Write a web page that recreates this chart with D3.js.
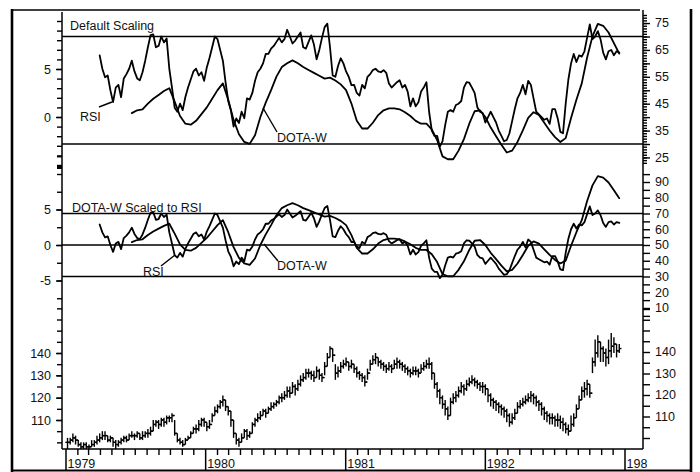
<!DOCTYPE html>
<html>
<head>
<meta charset="utf-8">
<script src="https://cdn.jsdelivr.net/npm/d3@7/dist/d3.min.js"></script>
<style>
  html, body { margin: 0; padding: 0; background: #fff; }
  svg { display: block; }
  text { font-family: "Liberation Sans", Arial, sans-serif; fill: #111; }
</style>
</head>
<body>
<svg id="chart" width="700" height="472"></svg>
<script>
// Weekly series, week 0 = first week of January 1979
const yearLabels = ["1979", "1980", "1981", "1982", "1983"];

// Weekly price bars (close / high / low)
const priceClose = [
  100,101,102,101,99,98,99,98,98,99,
  100,101,102,103,103,101,102,100,99,100,
  101,102,101,103,103,103,104,102,103,104,
  104,105,108,109,108,110,109,111,111,112,
  104,101,100,99,101,102,104,106,106,108,
  110,109,107,108,112,114,116,118,119,116,
  114,110,104,101,100,102,105,103,104,108,
  110,111,112,114,113,115,116,117,118,120,
  120,121,123,122,125,124,126,128,129,131,
  131,130,129,132,130,129,134,138,142,139,
  131,132,134,135,136,134,135,133,131,130,
  129,127,131,135,137,138,136,135,134,133,
  134,133,135,136,135,134,133,132,131,132,
  132,131,133,134,135,135,131,126,123,120,
  117,115,112,118,120,121,123,125,124,126,
  127,128,127,126,125,125,124,121,119,118,
  117,116,115,114,112,109,111,113,116,117,
  118,119,120,121,120,118,117,115,113,112,
  111,111,110,110,109,108,106,105,108,111,
  115,119,123,124,126,122,136,140,145,142,
  140,138,141,143,144,141,142
];
const priceHigh = [
  102,102,104,103,101,100,100,100,99,101,
  101,103,104,105,105,103,103,102,101,101,
  102,103,103,104,105,104,105,104,105,105,
  106,107,110,110,110,111,111,112,112,113,
  110,104,102,101,102,103,105,107,108,110,
  111,111,109,110,113,116,117,119,121,119,
  116,114,110,104,102,104,106,106,105,109,
  111,113,114,115,115,116,118,118,119,121,
  122,123,125,125,127,126,128,130,131,133,
  133,132,132,134,133,131,136,140,143,142,
  135,134,136,137,138,136,137,135,134,132,
  131,130,133,137,139,140,138,137,136,135,
  136,135,137,138,137,136,135,134,133,134,
  134,133,135,136,137,138,136,131,127,124,
  121,119,116,120,122,123,125,127,126,128,
  129,130,129,128,127,127,126,124,122,120,
  119,118,117,116,115,113,113,115,118,119,
  120,121,122,123,122,121,119,118,116,114,
  113,113,112,113,112,111,109,108,112,113,
  117,121,125,127,128,126,138,146,148,145,
  143,142,146,149,147,144,144
];
const priceLow = [
  97,99,100,99,98,97,97,97,97,98,
  98,99,100,101,101,100,100,98,97,98,
  99,100,100,101,102,101,102,101,101,102,
  102,103,105,107,106,107,107,108,109,109,
  103,100,99,98,99,101,102,104,104,105,
  107,107,105,106,109,112,113,115,116,114,
  112,107,102,99,98,100,102,101,102,104,
  107,109,110,112,111,113,114,115,116,117,
  118,119,120,120,122,121,123,125,127,128,
  129,128,127,129,128,127,130,134,138,136,
  128,129,131,133,134,132,133,131,129,128,
  127,125,128,132,135,135,134,133,132,131,
  132,131,133,133,133,132,131,130,129,130,
  130,129,131,132,133,133,128,124,120,117,
  115,112,110,112,117,118,120,122,121,123,
  125,126,125,124,123,122,121,118,116,115,
  114,113,112,111,109,107,108,110,113,115,
  116,117,118,118,117,116,114,112,110,109,
  108,108,107,107,106,105,104,103,105,107,
  111,115,119,120,121,120,131,134,138,136,
  136,134,135,138,140,138,140
];

// RSI, weekly, starting at week 12
const rsiStart = 12;
const rsi = [
  63,58,54.8,55.5,50,45.6,51,52,47.4,54.4,
  56,58,61,57,54.4,53.7,56.7,61,66,70.5,
  70.8,66,66.5,70,67.8,69.3,58,51,43.5,42,
  45,42.6,47.5,51,54,57,58,55.5,56.7,53.5,
  58.5,62,66,70,69,65,61,53,46,42.5,
  36.5,39.5,37.8,42,39.6,47,46.5,49,53.5,56.7,
  58,60,63.5,63.5,65.5,66.5,68,69.5,67.8,69,
  72.5,70,67.4,68.5,70,71.5,66,65.5,68,70.4,
  67,61.5,65,69.5,73.5,74.8,66,55.5,55,59,
  61.9,60,57,55,51.9,52,49,48,52,50.7,
  55,56,57.5,58,57,56.7,57.5,56.5,52.5,51,
  52,53,53.7,51,52,49.5,44,47,44,45.5,
  49.5,51,53,42,35,33,33,29,31,37,
  42,42.6,42,44.5,45,46,51,53,52.8,51,
  49,43.7,42,41.5,38,40,42,40,38,35,
  33,31,31.5,34,38.5,43,47,49,52,48.5,
  53.5,52,47,42,41,40,39,39.5,37.5,43,
  43,39.6,34.5,34,45,54,60,63.5,60.5,63,
  62.5,64.5,69.6,74.5,69,70,72,69,64,61.5,
  64.5,65,63,64.5,64
];

// DOTA-W, every second week, starting at week 24
const dotaStart = 24;
const dotaStep = 2;
const dotaW = [
  0.4,0.7,0.8,1.4,1.9,2.3,2.7,3.0,1.6,0.1,
  -0.7,-0.8,-0.4,0.3,1.0,1.9,2.8,3.5,1.8,-0.3,
  -1.8,-2.6,-2.8,-1.9,0,1.5,2.8,4.2,5.2,5.6,
  5.9,5.6,5.2,4.9,4.6,4.3,4.0,4.1,3.8,3.4,
  2.8,1.4,-0.4,-1.2,-1.2,-0.6,0.2,0.7,0.9,0.9,
  0.8,0.5,0.1,-0.4,-0.7,-0.7,-1.3,-2.4,-4.1,-4.4,
  -4.4,-3.5,-2.3,-0.7,0.6,0.7,0,-1.1,-2.0,-2.9,
  -3.7,-3.5,-2.6,-1.4,-0.1,0.5,0.2,-0.6,-1.4,-2.1,
  -2.6,-2.2,-0.1,1.8,3.5,6.2,8.4,9.7,9.5,8.8,
  7.7,6.6
];

// Axis labels
const topLeftTicks = [0, 5];
const topRightTicks = [75, 65, 55, 45, 35, 25];
const midLeftTicks = [5, 0, -5];
const midRightTicks = [90, 80, 70, 60, 50, 40, 30, 20, 10];
const priceTicks = [140, 130, 120, 110];
const rsiBands = [70, 30];
const rsiBandsMid = [70, 50, 30];

const weekDate = i => new Date(1979, 0, 5 + 7 * i);

const svg = d3.select("#chart");
const X0 = 62, X1 = 643, BASE = 449;

const x = d3.scaleTime()
  .domain([new Date(1979, 0, 1), new Date(1983, 0, 1)])
  .range([66, 625]);

// panel scales
const yTopL = d3.scaleLinear().domain([0, 5]).range([117, 69]);
const yTopR = d3.scaleLinear().domain([30, 70]).range([144, 36.5]);
const yMidL = d3.scaleLinear().domain([0, 5]).range([245, 209.5]);
const yMidR = d3.scaleLinear().domain([30, 70]).range([276.5, 213.5]);
const yPxL = d3.scaleLinear().domain([110, 140]).range([420, 353]);
const yPxR = d3.scaleLinear().domain([110, 140]).range([416.5, 352]);

const rsiData = rsi.map((v, k) => ({ date: weekDate(rsiStart + k), v }));
const dotaData = dotaW.map((v, k) => ({ date: weekDate(dotaStart + dotaStep * k), v }));
const bars = priceClose.map((c, i) => ({
  date: weekDate(i), c, h: priceHigh[i], l: priceLow[i],
  o: i > 0 ? priceClose[i - 1] : c
}));

// outer frame
const frame = svg.append("g").attr("stroke", "#000").attr("fill", "none");
frame.append("line").attr("x1", 12).attr("x2", 12).attr("y1", 9).attr("y2", 472).attr("stroke-width", 2.6);
frame.append("line").attr("x1", 12).attr("x2", 640).attr("y1", 10).attr("y2", 10).attr("stroke-width", 1.6);
frame.append("line").attr("x1", 691).attr("x2", 691).attr("y1", 9).attr("y2", 472).attr("stroke-width", 2.6);
frame.append("line").attr("x1", 12).attr("x2", 692).attr("y1", 470.5).attr("y2", 470.5).attr("stroke-width", 1.8);

// main axis lines
const ax = svg.append("g").attr("stroke", "#000").attr("fill", "none").attr("stroke-width", 1.5);
ax.append("line").attr("x1", X0).attr("x2", X0).attr("y1", 12).attr("y2", BASE);
ax.append("line").attr("x1", X1).attr("x2", X1).attr("y1", 10).attr("y2", BASE);
ax.append("line").attr("x1", X0).attr("x2", X1).attr("y1", BASE).attr("y2", BASE);

function styleAxis(g) {
  g.select(".domain").remove();
  g.selectAll(".tick line").attr("stroke", "#000").attr("stroke-width", 1.4);
  g.selectAll("text").attr("font-size", 12.5).attr("fill", "#111");
}

// left minor ticks
svg.append("g").attr("transform", `translate(${X0},0)`)
  .call(d3.axisLeft(yTopL).tickValues(d3.range(-5, 11, 1)).tickSize(5).tickFormat(""))
  .call(styleAxis);
svg.append("g").attr("transform", `translate(${X0},0)`)
  .call(d3.axisLeft(yMidL).tickValues(d3.range(-7.5, 13, 2.5)).tickSize(5).tickFormat(""))
  .call(styleAxis);
svg.append("g").attr("transform", `translate(${X0},0)`)
  .call(d3.axisLeft(yPxL).tickValues(d3.range(100, 165, 5)).tickSize(5).tickFormat(""))
  .call(styleAxis);
svg.append("rect").attr("x", 57).attr("y", 165).attr("width", 5).attr("height", 4).attr("fill", "#000");

// left labels
svg.append("g").attr("transform", `translate(${X0},0)`)
  .call(d3.axisLeft(yTopL).tickValues(topLeftTicks).tickSize(6).tickPadding(5).tickFormat(d3.format("d")))
  .call(styleAxis);
svg.append("g").attr("transform", `translate(${X0},0)`)
  .call(d3.axisLeft(yMidL).tickValues(midLeftTicks).tickSize(6).tickPadding(5).tickFormat(d => d < 0 ? "-" + Math.abs(d) : d))
  .call(styleAxis);
svg.append("g").attr("transform", `translate(${X0},0)`)
  .call(d3.axisLeft(yPxL).tickValues(priceTicks).tickSize(6).tickPadding(5).tickFormat(d3.format("d")))
  .call(styleAxis);

// right ruler ticks
svg.append("g").attr("transform", `translate(${X1},0)`)
  .call(d3.axisRight(yTopR).tickValues(d3.range(23, 79, 1)).tickSize(4).tickFormat(""))
  .call(styleAxis);
svg.append("g").attr("transform", `translate(${X1},0)`)
  .call(d3.axisRight(yTopR).tickValues(d3.range(25, 80, 5)).tickSize(7).tickFormat(""))
  .call(styleAxis);
svg.append("g").attr("transform", `translate(${X1},0)`)
  .call(d3.axisRight(yMidR).tickValues(d3.range(5, 100, 5)).tickSize(7).tickFormat(""))
  .call(styleAxis);
svg.append("g").attr("transform", `translate(${X1},0)`)
  .call(d3.axisRight(yPxR).tickValues(d3.range(100, 165, 5)).tickSize(7).tickFormat(""))
  .call(styleAxis);

// right labels
function rightLabels(scale, values) {
  svg.append("g").selectAll("text").data(values).join("text")
    .attr("x", 655).attr("y", d => scale(d)).attr("dy", "0.35em")
    .attr("font-size", 12.5).text(d => d);
}
rightLabels(yTopR, topRightTicks);
rightLabels(yMidR, midRightTicks);
rightLabels(yPxR, priceTicks);

// time axis: monthly ticks, long year ticks, year labels
const months = d3.timeMonth.range(new Date(1979, 0, 1), new Date(1983, 0, 2));
svg.append("g").selectAll("line").data(months).join("line")
  .attr("x1", d => x(d)).attr("x2", d => x(d))
  .attr("y1", BASE).attr("y2", d => d.getMonth() === 0 ? 471 : BASE + 6)
  .attr("stroke", "#000").attr("stroke-width", d => d.getMonth() === 0 ? 1.5 : 1.4);

svg.append("clipPath").attr("id", "yearClip")
  .append("rect").attr("x", 0).attr("y", 0).attr("width", 647).attr("height", 472);
svg.append("g").attr("clip-path", "url(#yearClip)")
  .selectAll("text").data(yearLabels).join("text")
  .attr("x", d => x(new Date(+d, 0, 1)) + 1.5).attr("y", 468)
  .attr("font-size", 12.5).text(d => d);

// RSI band lines
const bands = svg.append("g").attr("stroke", "#000").attr("stroke-width", 1.6);
bands.selectAll(".t").data(rsiBands).join("line").attr("class", "t")
  .attr("x1", X0).attr("x2", X1).attr("y1", d => yTopR(d)).attr("y2", d => yTopR(d));
bands.selectAll(".m").data(rsiBandsMid).join("line").attr("class", "m")
  .attr("x1", X0).attr("x2", X1).attr("y1", d => yMidR(d)).attr("y2", d => yMidR(d));

// oscillator lines
function drawLine(data, yScale) {
  svg.append("path").datum(data)
    .attr("fill", "none").attr("stroke", "#000").attr("stroke-width", 1.8)
    .attr("stroke-linejoin", "round").attr("stroke-linecap", "round")
    .attr("d", d3.line().x(d => x(d.date)).y(d => yScale(d.v)));
}
drawLine(rsiData, yTopR);
drawLine(dotaData, yTopL);
drawLine(rsiData, yMidR);
drawLine(dotaData, yMidL);

// price bars
const pb = svg.append("g").attr("stroke", "#000").attr("stroke-width", 1.4);
pb.selectAll(".hl").data(bars).join("line").attr("class", "hl")
  .attr("x1", d => x(d.date)).attr("x2", d => x(d.date))
  .attr("y1", d => yPxL(d.h)).attr("y2", d => yPxL(d.l));
pb.selectAll(".cl").data(bars).join("line").attr("class", "cl")
  .attr("x1", d => x(d.date)).attr("x2", d => x(d.date) + 2.2)
  .attr("y1", d => yPxL(d.c)).attr("y2", d => yPxL(d.c));
pb.selectAll(".op").data(bars).join("line").attr("class", "op")
  .attr("x1", d => x(d.date) - 2.2).attr("x2", d => x(d.date))
  .attr("y1", d => yPxL(d.o)).attr("y2", d => yPxL(d.o));

// annotations
const ann = svg.append("g");
function label(t, px, py) {
  ann.append("text").attr("x", px).attr("y", py).attr("font-size", 12.5).text(t);
}
function pointer(x1, y1, x2, y2) {
  ann.append("line").attr("x1", x1).attr("y1", y1).attr("x2", x2).attr("y2", y2)
    .attr("stroke", "#000").attr("stroke-width", 1.4);
}
label("Default Scaling", 70, 30);
label("RSI", 80, 121); pointer(99, 107, 112, 102);
label("DOTA-W", 277, 142); pointer(277, 132, 263, 108);
label("DOTA-W Scaled to RSI", 72, 212);
label("RSI", 143, 276); pointer(161, 266, 175, 255);
label("DOTA-W", 277, 270); pointer(278, 261, 264, 244);
</script>
</body>
</html>
